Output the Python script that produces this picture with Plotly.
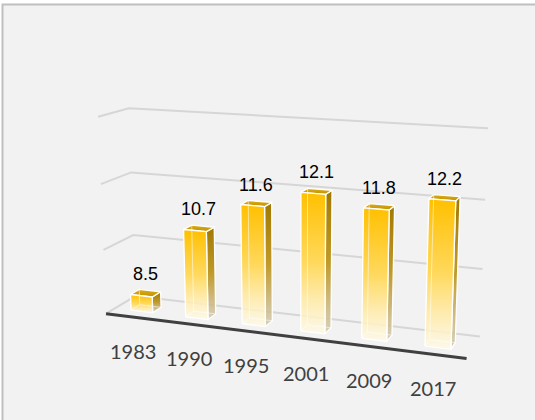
import numpy as np
import plotly.graph_objects as go

# ---- data -------------------------------------------------------------
years = ["1983", "1990", "1995", "2001", "2009", "2017"]
values = [8.5, 10.7, 11.6, 12.1, 11.8, 12.2]
grid_values = [8, 10, 12, 14]          # value-axis gridlines
axis_min = 8

# ---- 3-D view ---------------------------------------------------------
# World space: X = category slot (0..n), Y = value above axis_min,
# Z = depth (0 = front edge of the floor, 1 = back wall).
# CAMERA is a 3x4 perspective projection onto the 535x420 canvas.
CAMERA = np.array([
    [51.760226, -1.964565, 36.058397, 106.035038],
    [1.082785, -33.592229, -2.775401, 313.683495],
    [-0.017842, -0.006604, 0.050282, 1.0],
])
W_PX, H_PX = 535, 420

BAR_HALF = 0.2          # half bar width in category slots (gap width 150%)
BAR_Z = (0.3, 0.6)      # bar depth span


def project(pts):
    pts = np.asarray(pts, float)
    hom = np.c_[pts, np.ones(len(pts))] @ CAMERA.T
    px = hom[:, 0] / hom[:, 2]
    py = hom[:, 1] / hom[:, 2]
    return px, H_PX - py


fig = go.Figure()


def poly(pts, **kw):
    x, y = project(pts)
    fig.add_trace(go.Scatter(x=np.r_[x, x[0]], y=np.r_[y, y[0]], mode="lines",
                             fill="toself", hoverinfo="skip", showlegend=False, **kw))


def seg(pts, color, width):
    x, y = project(pts)
    fig.add_trace(go.Scatter(x=x, y=y, mode="lines", hoverinfo="skip", showlegend=False,
                             line=dict(color=color, width=width)))


n = len(years)

# gridlines on the back wall and the left side wall
for g in grid_values:
    h = g - axis_min
    seg([(0, h, 0), (0, h, 1), (n, h, 1)], "#d6d6d6", 2)

# bars
front_scale = [[0, "rgba(255,250,232,0.80)"], [0.5, "#ffd95e"], [1, "#ffc000"]]
side_scale = [[0, "rgba(210,200,175,0.80)"], [0.5, "#c09a2a"], [1, "#a17800"]]
top_scale = [[0, "#c29200"], [1, "#dcab18"]]
edge = dict(color="white", width=1.3)
for i, v in enumerate(values):
    h = v - axis_min
    x0, x1 = i + 0.5 - BAR_HALF, i + 0.5 + BAR_HALF
    z0, z1 = BAR_Z
    # side face (right)
    poly([(x1, 0, z0), (x1, 0, z1), (x1, h, z1), (x1, h, z0)], line=edge,
         fillgradient=dict(type="vertical", colorscale=side_scale))
    # top face
    poly([(x0, h, z0), (x1, h, z0), (x1, h, z1), (x0, h, z1)], line=edge,
         fillgradient=dict(type="vertical", colorscale=top_scale))
    # front face
    poly([(x0, 0, z0), (x1, 0, z0), (x1, h, z0), (x0, h, z0)], line=edge,
         fillgradient=dict(type="vertical", colorscale=front_scale))
    # hidden edges showing through the translucent body
    seg([(x0, h, z1), (x0, 0, z1), (x1, 0, z1)], "rgba(255,255,255,0.55)", 1)
    seg([(x0, 0, z0), (x0, 0, z1)], "rgba(255,255,255,0.55)", 1)

# floor front edge (category axis)
seg([(0, 0, 0), (n, 0, 0)], "#404040", 3)

# value labels above the bars
for i, v in enumerate(values):
    x, y = project([(i + 0.5, v - axis_min, sum(BAR_Z) / 2)])
    fig.add_annotation(x=x[0], y=y[0], text=f"{v}", showarrow=False, yshift=19,
                       xanchor="center", yanchor="middle",
                       font=dict(family="Liberation Sans, Arial", size=18, color="#000000"))

# category labels below the floor edge
for i, yr in enumerate(years):
    x, y = project([(i + 0.5, 0, 0)])
    fig.add_annotation(x=x[0], y=y[0], text=yr, showarrow=False, yshift=-34,
                       xanchor="center", yanchor="middle",
                       font=dict(family="Lato, Open Sans, sans-serif", size=20, color="#404040"))

# chart area frame
fig.add_shape(type="rect", x0=2.5, x1=W_PX + 20, y0=-20, y1=H_PX - 4.5,
              line=dict(color="#bfbfbf", width=2), fillcolor="#f2f2f2", layer="below")

fig.update_layout(
    width=W_PX, height=H_PX, margin=dict(l=0, r=0, t=0, b=0),
    paper_bgcolor="white", plot_bgcolor="white",
    xaxis=dict(range=[0, W_PX], visible=False, fixedrange=True),
    yaxis=dict(range=[0, H_PX], visible=False, fixedrange=True),
    showlegend=False,
)

fig.write_html("out.html")
